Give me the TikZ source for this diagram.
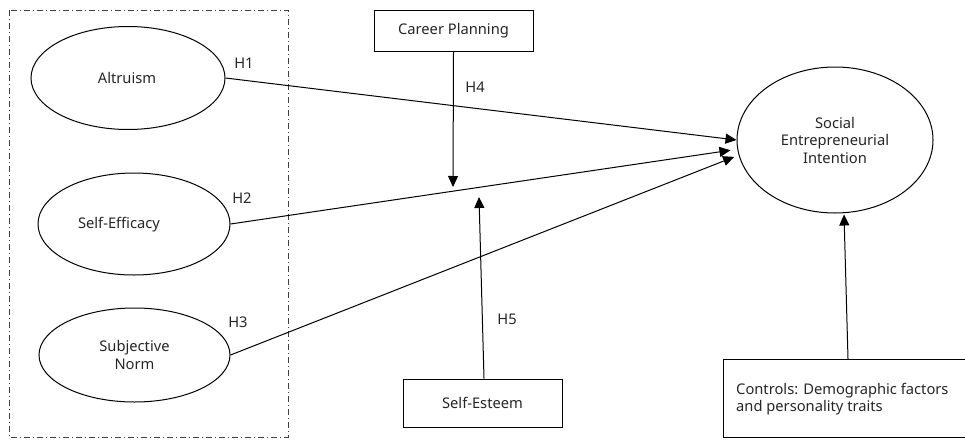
\documentclass[tikz,border=0pt]{standalone}
\usepackage{fontspec}
\setmainfont{Noto Sans}
\usetikzlibrary{shapes.geometric,arrows.meta}
\begin{document}
\begin{tikzpicture}[x=1pt,y=-1pt,
  every node/.style={font=\fontsize{14.7}{17.5}\selectfont, text=black!85},
  latent/.style={draw, ellipse, line width=1pt, inner sep=0pt, align=center},
  boxnode/.style={draw, rectangle, line width=0.9pt, inner sep=0pt, align=center},
  link/.style={line width=1pt, -{Triangle[length=11pt,width=10pt]}},
  hyp/.style={inner sep=0pt}
]
\useasboundingbox (0,0) rectangle (965,439);

% grouping frame around the three antecedents
\draw[black!75, line width=0.9pt, dash pattern=on 6pt off 3pt on 1pt off 3pt]
  (9,10) rectangle (288,437);

% constructs
\node[latent, minimum width=194pt, minimum height=103pt] (alt) at (128,78) {};
\node at (127,78) {Altruism};
\node[latent, minimum width=192pt, minimum height=102pt] (eff) at (134,224) {};
\node at (119,225) {Self-Efficacy};
\node[latent, minimum width=191pt, minimum height=94pt] (norm) at (134.5,355) {Subjective\\Norm};
\node[latent, minimum width=196pt, minimum height=146pt] (sei) at (835,140) {Social\\Entrepreneurial\\Intention};

% moderators and controls
\node[boxnode, minimum width=159pt, minimum height=41pt] (plan) at (453.5,30.5) {Career Planning};
\node[boxnode, minimum width=159pt, minimum height=48pt] (esteem) at (482.5,403) {Self-Esteem};
\node[boxnode, anchor=north west, minimum width=260pt, minimum height=78pt] (ctrl) at (723,359) {};
\node[anchor=west, align=left, inner sep=0pt] (ctrltext) at (736,399)
  {Controls: Demographic factors\\and personality traits};

% free ends of the moderating arrows
\coordinate (m4) at (453,187);
\coordinate (m5) at (479,197);

% hypothesised paths
\draw[link] (alt.east) -- (sei.west);
\draw[link] (eff.east) -- ([xshift=-7pt]sei.186);
\draw[link] (norm.east) -- ([xshift=-5pt]sei.190);
\draw[link] (plan.south) -- (m4);
\draw[link] ([xshift=1.5pt]esteem.north) -- (m5);
\draw[link] ([xshift=125pt]ctrl.north west) -- ([xshift=9pt,yshift=-1pt]sei.south);

% hypothesis labels
\node[hyp] (h1) at (244,63) {H1};
\node[hyp] (h2) at (242,198) {H2};
\node[hyp] (h3) at (238,322) {H3};
\node[hyp] (h4) at (475,87) {H4};
\node[hyp] (h5) at (507,319) {H5};
\end{tikzpicture}
\end{document}
